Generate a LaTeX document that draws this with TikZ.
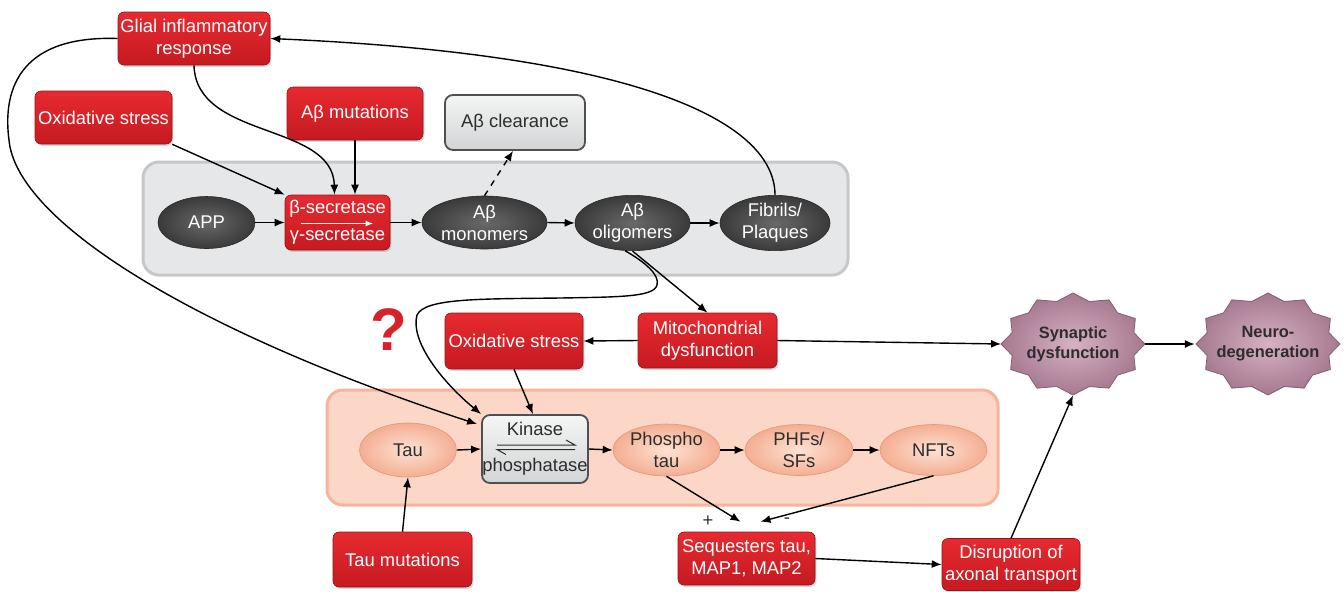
\documentclass[tikz,border=0pt]{standalone}
\usepackage{fontspec}
\setmainfont{Liberation Sans}
\usetikzlibrary{arrows.meta,shapes.geometric,shadows,calc}
\definecolor{redA}{RGB}{230,42,48}
\definecolor{redB}{RGB}{198,26,33}
\definecolor{redE}{RGB}{150,20,25}
\definecolor{elA}{RGB}{105,105,105}
\definecolor{elB}{RGB}{58,58,58}
\definecolor{elE}{RGB}{40,40,40}
\definecolor{boxA}{RGB}{244,245,245}
\definecolor{boxB}{RGB}{210,212,213}
\definecolor{boxE}{RGB}{80,80,80}
\definecolor{abfill}{RGB}{230,231,232}
\definecolor{abedge}{RGB}{198,199,201}
\definecolor{taufill}{RGB}{252,214,198}
\definecolor{tauedge}{RGB}{247,180,155}
\definecolor{orA}{RGB}{253,226,212}
\definecolor{orB}{RGB}{244,174,146}
\definecolor{orE}{RGB}{226,150,120}
\definecolor{stA}{RGB}{214,178,194}
\definecolor{stB}{RGB}{166,120,143}
\definecolor{stE}{RGB}{130,95,115}
\definecolor{txt}{RGB}{45,45,45}
\definecolor{qred}{RGB}{214,35,42}
\newcommand\myfs{\fontsize{9.2}{11}\selectfont}
\newcommand\mystar[2]{\draw[starbody] plot[samples at={0,...,23}] ({#1+(mod(\x,2)==0 ? 72 : 63)*cos(\x*15)},{#2+(mod(\x,2)==0 ? 51 : 44)*sin(\x*15)}) -- cycle;}
\begin{document}
\begin{tikzpicture}[x=0.5pt,y=-0.5pt,
  base/.style={inner sep=0pt, align=center, font=\myfs},
  redbox/.style={base, rectangle, rounded corners=3pt, top color=redA, bottom color=redB, draw=redE, line width=0.3pt, text=white,
    drop shadow={opacity=0.3, shadow xshift=0.7pt, shadow yshift=-0.9pt}},
  graybox/.style={base, rectangle, rounded corners=4pt, top color=boxA, bottom color=boxB, draw=boxE, line width=0.9pt, text=txt},
  grayell/.style={base, ellipse, inner color=elA, outer color=elB, draw=elE, line width=0.3pt, text=white},
  orell/.style={base, ellipse, inner color=orA, outer color=orB, draw=orE, line width=0.3pt, text=txt},
  startext/.style={base, ellipse, font=\fontsize{8.2}{10}\selectfont\bfseries, text=txt},
  starbody/.style={inner color=stA, outer color=stB, draw=stE, line width=0.4pt, line join=round},
  arr/.style={-{Latex[length=5pt,width=4pt]}, line width=0.7pt, black},
  sz/.style 2 args={minimum width=#1pt, minimum height=#2pt}
]
\useasboundingbox (0,0) rectangle (1344,591);
% background panels
\node[rectangle, rounded corners=8pt, fill=abfill, draw=abedge, line width=1.5pt, sz={352.5}{56.5}] (abpanel) at (495.5,218.5) {};
\node[rectangle, rounded corners=8pt, fill=taufill, draw=tauedge, line width=1.5pt, sz={335.5}{57.5}] (taupanel) at (662.5,447.5) {};
% stars
\mystar{1073}{344}
\mystar{1268}{344}
% nodes
\node[redbox, sz={76}{26.5}] (glial) at (194,38.5) {Glial inflammatory\\response};
\node[redbox, sz={68.5}{26.5}] (ox1) at (103.5,117.5) {Oxidative stress};
\node[redbox, sz={68}{26.5}] (abmut) at (355,113.5) {Aβ mutations};
\node[graybox, sz={70}{27.5}] (clear) at (515,122.5) {Aβ clearance};
\node[grayell, sz={48.5}{26}] (app) at (206.5,222.5) {APP};
\node[redbox, sz={52.5}{27.5}] (secr) at (337.5,222.5) {β-secretase\\[2.5pt]γ-secretase};
\node[grayell, sz={62.5}{26.5}] (mono) at (484.5,222.5) {Aβ\\monomers};
\node[grayell, sz={57.5}{26.5}] (olig) at (632.5,223) {Aβ\\oligomers};
\node[grayell, sz={55}{26.5}] (fib) at (775,223) {Fibrils/\\Plaques};
\node[font=\fontsize{30}{30}\selectfont\bfseries, text=qred, inner sep=0pt] (qm) at (389,330) {?};
\node[redbox, sz={69}{28}] (ox2) at (514,341) {Oxidative stress};
\node[redbox, sz={69.5}{27.5}] (mito) at (707.5,340.5) {Mitochondrial\\dysfunction};
\node[startext, sz={71.5}{51}] (syn) at (1073,344) {Synaptic\\dysfunction};
\node[startext, sz={71.5}{51}] (neuro) at (1268,344) {Neuro-\\degeneration};
\node[orell, sz={48.5}{27}] (tau) at (408,450) {Tau};
\node[graybox, sz={53}{34}] (kinase) at (535,449) {Kinase\\[7pt]phosphatase};
\node[orell, sz={53.5}{26}] (phos) at (666.5,450) {Phospho\\tau};
\node[orell, sz={54}{25.5}] (phf) at (799,450) {PHFs/\\SFs};
\node[orell, sz={53.5}{25.5}] (nft) at (933.5,450) {NFTs};
\node[redbox, sz={69.5}{27.5}] (taumut) at (402.5,559.5) {Tau mutations};
\node[redbox, sz={68.5}{26.5}] (seq) at (746.5,558.5) {Sequesters tau,\\MAP1, MAP2};
\node[redbox, sz={69}{26}] (disr) at (1011,564.5) {Disruption of\\axonal transport};
\node[base, text=txt] (plus) at (708,521) {+};
\node[base, text=txt] (minus) at (787,521) {-};
% inner arrows / harpoons
\draw[white, line width=0.8pt, -{Latex[length=4pt,width=3pt]}] ($(secr.center)+(-37,1)$) -- ($(secr.center)+(36,1)$);
\draw[txt, line width=0.5pt] ($(kinase.center)+(-38,-4)$) -- ($(kinase.center)+(40,-4)$) -- ++(-9,-5);
\draw[txt, line width=0.5pt] ($(kinase.center)+(40,0.5)$) -- ($(kinase.center)+(-38,0.5)$) -- ++(9,5);
% connectors
\draw[arr] (app.east) -- (secr.west);
\draw[arr] (secr.east) -- (mono.west);
\draw[arr] (mono.east) -- (olig.west);
\draw[arr] (olig.east) -- (fib.west);
\draw[arr] (ox1.south east) -- (secr.north west);
\draw[arr] (glial.south) .. controls (196,140) and (333,122) .. ($(secr.north)+(-3,0)$);
\draw[arr] (abmut.south) -- (abmut.south |- secr.north);
\draw[arr, dashed] (mono.north) -- ($(clear.south)+(-2,0)$);
\draw[arr] (fib.north) .. controls (775,125) and (650,55) .. (glial.east);
\draw[arr] (glial.west) .. controls (15,35) and (3,95) .. (9,140) .. controls (16,220) and (190,330) .. ($(kinase.north west)+(-4,10)$);
\draw[arr] (olig.255) .. controls (645,262) and (660,275) .. (657,285) .. controls (654,297) and (620,297) .. (560,298) .. controls (480,299) and (425,298) .. (417,315) .. controls (410,340) and (440,380) .. (kinase.north west);
\draw[arr] (olig.south) -- (mito.north);
\draw[arr] (mito.west) -- (ox2.east);
\draw[arr] (mito.east) -- (syn.west);
\draw[arr] (syn.east) -- (neuro.west);
\draw[arr] (ox2.south) -- ($(kinase.north)+(-2,0)$);
\draw[arr] (tau.east) -- (kinase.west);
\draw[arr] (kinase.east) -- (phos.west);
\draw[arr] (phos.east) -- (phf.west);
\draw[arr] (phf.east) -- (nft.west);
\draw[arr] (taumut.north) -- (tau.south);
\draw[arr] (phos.south) -- ($(seq.north)+(-6,-10)$);
\draw[arr] (nft.south) -- ($(seq.north)+(14,-10)$);
\draw[arr] (seq.east) -- (disr.west);
\draw[arr] (disr.north) -- (syn.south);
\end{tikzpicture}
\end{document}
